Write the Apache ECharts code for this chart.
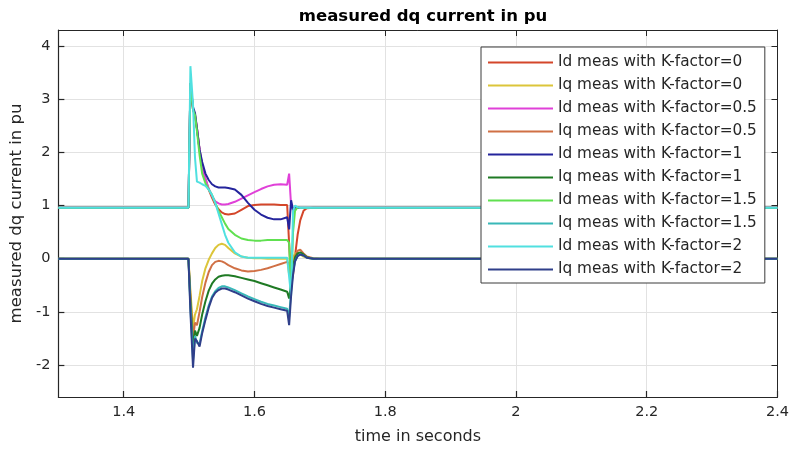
<!DOCTYPE html>
<html>
<head>
<meta charset="utf-8">
<script src="https://cdn.jsdelivr.net/npm/echarts@6/dist/echarts.min.js"></script>
<style>
  html, body { margin: 0; padding: 0; background: #fff; }
  #chart { width: 792px; height: 450px; }
</style>
</head>
<body>
<div id="chart"></div>
<script>
// Sample times (s) shared by every trace
const t = [1.3, 1.499, 1.502, 1.506, 1.509, 1.512, 1.516, 1.52, 1.525, 1.53,
           1.535, 1.54, 1.545, 1.55, 1.555, 1.56, 1.57, 1.58, 1.59, 1.6,
           1.61, 1.62, 1.63, 1.64, 1.65, 1.653, 1.656, 1.659, 1.662, 1.666,
           1.67, 1.675, 1.68, 1.69, 1.7, 2.4];

// Measured d/q currents (pu) for each K-factor
const idK0  = [0.96, 0.96, 3.3, 2.8, 2.7, 2.45, 2.05, 1.75, 1.5, 1.3, 1.15, 1.02, 0.93, 0.87, 0.84, 0.83, 0.85, 0.92, 0.99, 1.01, 1.02, 1.02, 1.02, 1.01, 1.01, 1.0, -0.45, -0.3, 0.05, 0.45, 0.72, 0.9, 0.95, 0.96, 0.96, 0.96];
const iqK0  = [0, 0, -0.6, -1.3, -1.05, -0.95, -0.7, -0.42, -0.18, -0.02, 0.1, 0.2, 0.26, 0.28, 0.26, 0.2, 0.1, 0.04, 0.02, 0.01, 0.01, 0, 0, 0, 0, -0.3, -0.2, 0.02, 0.1, 0.12, 0.08, 0.04, 0.02, 0, 0, 0];
const idK05 = [0.96, 0.96, 3.3, 2.8, 2.7, 2.45, 2.05, 1.75, 1.5, 1.32, 1.18, 1.08, 1.04, 1.02, 1.02, 1.03, 1.07, 1.13, 1.19, 1.25, 1.31, 1.36, 1.39, 1.4, 1.39, 1.6, 1.0, 0.9, 0.95, 0.97, 0.96, 0.96, 0.96, 0.96, 0.96, 0.96];
const iqK05 = [0, 0, -0.7, -1.5, -1.2, -1.25, -1.0, -0.72, -0.45, -0.25, -0.12, -0.06, -0.04, -0.05, -0.08, -0.12, -0.18, -0.22, -0.24, -0.23, -0.21, -0.18, -0.14, -0.1, -0.06, -0.1, -0.5, -0.2, 0.05, 0.15, 0.17, 0.1, 0.04, 0.01, 0, 0];
const idK1  = [0.96, 0.96, 3.3, 2.85, 2.74, 2.45, 2.05, 1.82, 1.6, 1.48, 1.4, 1.36, 1.34, 1.34, 1.34, 1.33, 1.3, 1.2, 1.05, 0.92, 0.83, 0.77, 0.74, 0.74, 0.78, 0.55, 1.1, 0.92, 0.97, 0.96, 0.96, 0.96, 0.96, 0.96, 0.96, 0.96];
const iqK1  = [0, 0, -0.8, -1.7, -1.35, -1.45, -1.3, -1.05, -0.8, -0.6, -0.47, -0.39, -0.34, -0.32, -0.31, -0.31, -0.33, -0.36, -0.39, -0.42, -0.46, -0.5, -0.54, -0.58, -0.62, -0.75, -0.45, -0.15, 0.02, 0.1, 0.12, 0.08, 0.03, 0, 0, 0];
const idK15 = [0.96, 0.96, 3.3, 2.8, 2.7, 2.4, 1.95, 1.6, 1.42, 1.3, 1.2, 1.05, 0.9, 0.78, 0.66, 0.56, 0.45, 0.38, 0.35, 0.34, 0.34, 0.35, 0.35, 0.35, 0.35, 0.3, -0.6, 0.5, 0.9, 0.97, 0.96, 0.96, 0.96, 0.96, 0.96, 0.96];
const iqK15 = [0, 0, -0.9, -1.9, -1.45, -1.58, -1.6, -1.36, -1.1, -0.88, -0.71, -0.61, -0.55, -0.52, -0.52, -0.54, -0.59, -0.65, -0.71, -0.76, -0.81, -0.85, -0.88, -0.91, -0.94, -1.1, -0.6, -0.25, -0.05, 0.05, 0.08, 0.06, 0.02, 0, 0, 0];
const idK2  = [0.96, 0.96, 3.62, 2.9, 1.9, 1.45, 1.43, 1.4, 1.37, 1.3, 1.2, 1.05, 0.85, 0.65, 0.45, 0.3, 0.12, 0.04, 0.02, 0.02, 0.02, 0.02, 0.02, 0.02, 0.02, 0.02, -0.7, 0.9, 1.0, 0.97, 0.96, 0.96, 0.96, 0.96, 0.96, 0.96];
const iqK2  = [0, 0, -1.0, -2.05, -1.5, -1.55, -1.65, -1.4, -1.15, -0.92, -0.74, -0.64, -0.59, -0.56, -0.56, -0.58, -0.63, -0.69, -0.75, -0.8, -0.85, -0.89, -0.92, -0.95, -0.98, -1.25, -0.7, -0.3, -0.05, 0.05, 0.08, 0.06, 0.02, 0, 0, 0];

const seriesNames = [
  'Id meas with K-factor=0', 'Iq meas with K-factor=0',
  'Id meas with K-factor=0.5', 'Iq meas with K-factor=0.5',
  'Id meas with K-factor=1', 'Iq meas with K-factor=1',
  'Id meas with K-factor=1.5', 'Iq meas with K-factor=1.5',
  'Id meas with K-factor=2', 'Iq meas with K-factor=2'
];
const seriesValues = [idK0, iqK0, idK05, iqK05, idK1, iqK1, idK15, iqK15, idK2, iqK2];

// Axis tick positions
const xTicks = [1.4, 1.6, 1.8, 2, 2.2, 2.4];
const yTicks = [-2, -1, 0, 1, 2, 3, 4];

const lineColors = ['#d4462a', '#dcc53a', '#e040d8', '#d07045', '#24249c',
                    '#1f7a24', '#60e050', '#38b8b8', '#50e0e0', '#2f3f8a'];

const FONT = 'DejaVu Sans';
const INK = '#262626';

const chart = echarts.init(document.getElementById('chart'), null, { renderer: 'canvas' });

const axisLineStyle = { color: INK, width: 1.2 };

const option = {
  animation: false,
  backgroundColor: '#ffffff',
  title: {
    text: 'measured dq current in pu',
    left: 418,
    top: 3,
    textAlign: 'center',
    textStyle: { fontFamily: FONT, fontSize: 16.5, fontWeight: 'bold', color: '#000' }
  },
  grid: { left: 56, right: 12, top: 30, bottom: 52, containLabel: false },
  legend: {
    orient: 'vertical',
    left: 481,
    top: 47,
    padding: [8, 8, 6, 6],
    itemWidth: 65,
    itemHeight: 14,
    itemGap: 8,
    backgroundColor: '#ffffff',
    borderColor: '#3a3a3a',
    borderWidth: 1,
    borderRadius: 0,
    // line-only keys: the point marker is made invisible
    itemStyle: { opacity: 0 },
    lineStyle: { width: 2 },
    textStyle: { fontFamily: FONT, fontSize: 15.3, color: INK },
    data: seriesNames
  },
  xAxis: [
    {
      type: 'value',
      min: 1.3,
      max: 2.4,
      name: 'time in seconds',
      nameLocation: 'middle',
      nameGap: 32,
      nameTextStyle: { fontFamily: FONT, fontSize: 16, color: INK },
      axisLine: { show: true, onZero: false, lineStyle: axisLineStyle },
      axisTick: { show: true, inside: true, length: 6, customValues: xTicks, lineStyle: axisLineStyle },
      axisLabel: { customValues: xTicks, margin: 8, fontFamily: FONT, fontSize: 14.5, color: INK },
      splitLine: { show: true, lineStyle: { color: '#e2e2e2', width: 1 } }
    },
    {
      type: 'value',
      position: 'top',
      min: 1.3,
      max: 2.4,
      axisLine: { show: true, onZero: false, lineStyle: { color: INK, width: 1 } },
      axisTick: { show: true, inside: true, length: 6, customValues: xTicks, lineStyle: { color: INK, width: 1 } },
      axisLabel: { show: false },
      splitLine: { show: false }
    }
  ],
  yAxis: [
    {
      type: 'value',
      min: -2.6,
      max: 4.3,
      name: 'measured dq current in pu',
      nameLocation: 'middle',
      nameGap: 26,
      nameTextStyle: { fontFamily: FONT, fontSize: 16.5, color: INK },
      axisLine: { show: true, onZero: false, lineStyle: axisLineStyle },
      axisTick: { show: true, inside: true, length: 6, customValues: yTicks, lineStyle: axisLineStyle },
      axisLabel: { customValues: yTicks, margin: 8, fontFamily: FONT, fontSize: 14.5, color: INK },
      splitLine: { show: true, lineStyle: { color: '#e2e2e2', width: 1 } }
    },
    {
      type: 'value',
      position: 'right',
      min: -2.6,
      max: 4.3,
      axisLine: { show: true, onZero: false, lineStyle: { color: INK, width: 1 } },
      axisTick: { show: true, inside: true, length: 6, customValues: yTicks, lineStyle: { color: INK, width: 1 } },
      axisLabel: { show: false },
      splitLine: { show: false }
    }
  ],
  series: seriesNames.map((name, i) => ({
    name: name,
    type: 'line',
    xAxisIndex: 0,
    yAxisIndex: 0,
    symbol: 'none',
    showSymbol: false,
    smooth: false,
    clip: true,
    lineStyle: { width: 2, color: lineColors[i] },
    itemStyle: { color: lineColors[i] },
    emphasis: { disabled: true },
    data: t.map((x, j) => [x, seriesValues[i][j]])
  }))
};

chart.setOption(option);
</script>
</body>
</html>
